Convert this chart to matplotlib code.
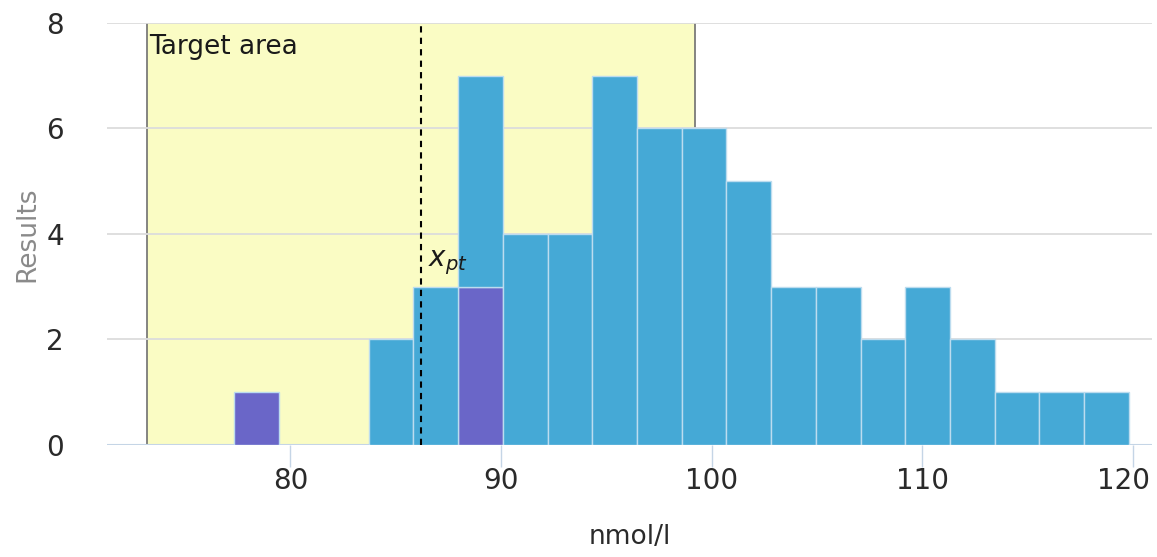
import numpy as np
import matplotlib
matplotlib.use('Agg')
import matplotlib.pyplot as plt
from matplotlib.transforms import ScaledTranslation

# histogram bins (nmol/l)
bin_lo = 77.35
bin_hi = 119.8
n_bins = 20
# counts per bin: flagged results (purple) and the rest (blue)
flagged = [1, 0, 0, 0, 0, 3, 0, 0, 0, 0, 0, 0, 0, 0, 0, 0, 0, 0, 0, 0]
others = [0, 0, 0, 2, 3, 4, 4, 4, 7, 6, 6, 5, 3, 3, 2, 3, 2, 1, 1, 1]

x_pt = 86.2          # assigned value
target_lo = 73.2     # target area limits
target_hi = 99.2

x_ticks = [80, 90, 100, 110, 120]
y_ticks = [0, 2, 4, 6, 8]

plt.rcParams['font.family'] = 'DejaVu Sans'

fig = plt.figure(figsize=(11.57, 5.57), dpi=100)
ax = fig.add_axes([0.0925, 0.201, 0.9032, 0.758])

edges = np.linspace(bin_lo, bin_hi, n_bins + 1)
width = edges[1] - edges[0]
flagged = np.array(flagged)
others = np.array(others)

# target area box
ax.axvspan(target_lo, target_hi, ymin=0, ymax=1, color='#fafcc4', zorder=0, lw=0)
ax.vlines([target_lo, target_hi], 0, 8, color='#707070', lw=1.2, zorder=1)
ax.text(target_lo + 0.1, 7.55, 'Target area', fontsize=19, color='#1a1a1a',
        ha='left', va='center', zorder=5)

for y in y_ticks:
    ax.axhline(y, color='#dcdcdc', lw=1.3, zorder=1)

ax.bar(edges[:-1], flagged, width=width, align='edge', color='#6a66c8',
       edgecolor='#bcdcef', lw=1, zorder=3)
ax.bar(edges[:-1], others, bottom=flagged, width=width, align='edge',
       color='#45a9d6', edgecolor='#bcdcef', lw=1, zorder=3)
# hide zero-height bars' edges
for p in ax.patches:
    if p.get_height() == 0:
        p.set_visible(False)

ax.vlines(x_pt, 0, 8, color='black', lw=1.5, linestyles=(0, (3, 2.5)), zorder=4)
ax.text(x_pt + 0.35, 3.45, r'$x_{pt}$', fontsize=20, color='#1a1a1a',
        ha='left', va='center', zorder=5)

ax.axhline(0, color='#c5d5e6', lw=1.5, zorder=2)

ax.set_xlim(71.3, 120.9)
ax.set_ylim(0, 8)
ax.set_xticks(x_ticks)
ax.set_yticks(y_ticks)
ax.tick_params(axis='x', length=16, width=1, color='#c5d5e6', pad=0,
               labelsize=20, labelcolor='#2a2a2a')
ax.tick_params(axis='y', length=0, pad=31, labelsize=20, labelcolor='#2a2a2a')
for s in ax.spines.values():
    s.set_visible(False)

# keep the last tick label inside the figure
last = ax.get_xticklabels()[-1]
last.set_transform(last.get_transform() + ScaledTranslation(-10 / 100, 0, fig.dpi_scale_trans))

ax.set_xlabel('nmol/l', fontsize=19, color='#2a2a2a', labelpad=21)
ax.set_ylabel('Results', fontsize=19, color='#8a8a8a', labelpad=4)

fig.savefig('out.png', dpi=100, facecolor='white')
